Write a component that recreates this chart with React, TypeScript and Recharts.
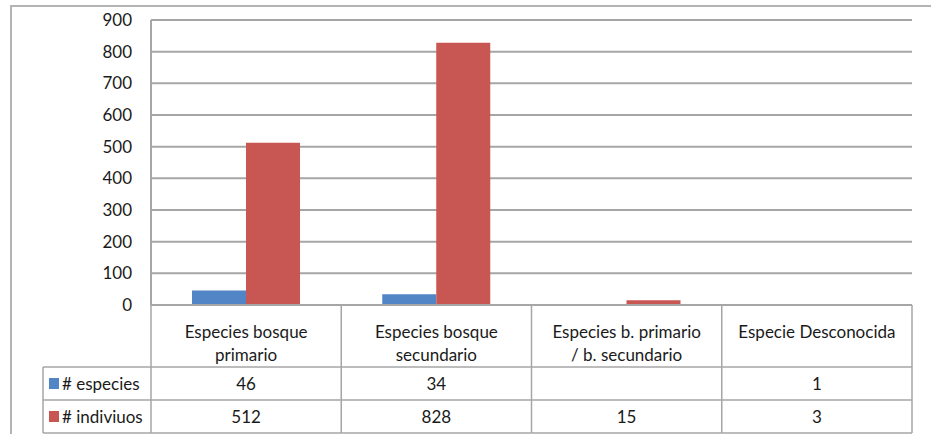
import React from "react";
import { BarChart, Bar, XAxis, YAxis, CartesianGrid } from "recharts";

const categories = [
  ["Especies bosque", "primario"],
  ["Especies bosque", "secundario"],
  ["Especies b. primario", "/ b. secundario"],
  ["Especie Desconocida"],
];
const especies: (number | null)[] = [46, 34, null, 1];
const individuos = [512, 828, 15, 3];
const yTicks = [0, 100, 200, 300, 400, 500, 600, 700, 800, 900];

const W = 931;
const H = 434;
const PLOT_LEFT = 151;
const PLOT_RIGHT = 912;
const PLOT_TOP = 20;
const PLOT_BOTTOM = 305;
const FONT = "Lato, 'Open Sans', sans-serif";
const LINE = "#a6a6a6";
const TEXT = "#1a1a1a";
const BLUE = "#5285C6";
const RED = "#C85652";

const data = categories.map((c, i) => ({
  name: c.join(" "),
  especies: especies[i],
  individuos: individuos[i],
}));

const band = (PLOT_RIGHT - PLOT_LEFT) / categories.length;
const headerH = 62;
const rowH = 33;
const rowLabelW = 108;

function TableTick(props: any) {
  const { x, y, payload } = props;
  const i = payload.index;
  const left = x - band / 2;
  const right = x + band / 2;
  const r1 = y + headerH;
  const r2 = r1 + rowH;
  const r3 = r2 + rowH;
  const lines = categories[i];
  const rows = [
    { label: "# especies", color: BLUE, value: especies[i] },
    { label: "# indiviuos", color: RED, value: individuos[i] },
  ];
  return (
    <g fontFamily={FONT} fontSize={17} fill={TEXT}>
      <line x1={right} y1={y} x2={right} y2={r3} stroke={LINE} strokeWidth={1.5} />
      {i === 0 && (
        <g>
          <line x1={left} y1={y} x2={left} y2={r3} stroke={LINE} strokeWidth={1.5} />
          <line x1={left - rowLabelW} y1={r1} x2={left - rowLabelW} y2={r3} stroke={LINE} strokeWidth={1.5} />
          <line x1={left - rowLabelW} y1={r1} x2={left} y2={r1} stroke={LINE} strokeWidth={1.5} />
          <line x1={left - rowLabelW} y1={r2} x2={left} y2={r2} stroke={LINE} strokeWidth={1.5} />
          <line x1={left - rowLabelW} y1={r3} x2={left} y2={r3} stroke={LINE} strokeWidth={1.5} />
          {rows.map((r, k) => (
            <g key={k}>
              <rect x={left - rowLabelW + 6} y={r1 + k * rowH + 11} width={10} height={11} fill={r.color} />
              <text x={left - rowLabelW + 19} y={r1 + k * rowH + rowH / 2} dominantBaseline="central" fill={TEXT}>
                {r.label}
              </text>
            </g>
          ))}
        </g>
      )}
      <line x1={left} y1={r1} x2={right} y2={r1} stroke={LINE} strokeWidth={1.5} />
      <line x1={left} y1={r2} x2={right} y2={r2} stroke={LINE} strokeWidth={1.5} />
      <line x1={left} y1={r3} x2={right} y2={r3} stroke={LINE} strokeWidth={1.5} />
      {lines.map((t, k) => (
        <text key={k} x={x} y={y + 26 + k * 23} textAnchor="middle" dominantBaseline="central" fill={TEXT}>
          {t}
        </text>
      ))}
      {rows.map((r, k) => (
        <text key={k} x={x} y={r1 + k * rowH + rowH / 2} textAnchor="middle" dominantBaseline="central" fill={TEXT}>
          {r.value == null ? "" : r.value}
        </text>
      ))}
    </g>
  );
}

export default function App() {
  return (
    <div style={{ position: "fixed", left: 0, top: 0, width: W, height: H, overflow: "hidden", background: "#fff" }}>
      <div
        style={{
          position: "absolute",
          left: 10,
          top: 5,
          width: 940,
          height: 460,
          border: "2px solid #b4b4b4",
          boxSizing: "border-box",
        }}
      />
      <div style={{ position: "absolute", left: 0, top: 0 }}>
        <BarChart
          width={W}
          height={H}
          data={data}
          margin={{ top: PLOT_TOP, right: W - PLOT_RIGHT, bottom: 0, left: 0 }}
          barGap={0}
          barSize={54}
        >
          <CartesianGrid vertical={false} stroke={LINE} strokeWidth={2} />
          <YAxis
            width={PLOT_LEFT}
            domain={[0, 900]}
            ticks={yTicks}
            interval={0}
            tickLine={false}
            tickSize={0}
            tickMargin={19}
            axisLine={{ stroke: LINE, strokeWidth: 2 }}
            tick={{ fontFamily: FONT, fontSize: 17, fill: TEXT }}
          />
          <XAxis
            dataKey="name"
            height={H - PLOT_BOTTOM}
            interval={0}
            tickLine={false}
            tickSize={0}
            tickMargin={0}
            axisLine={{ stroke: LINE, strokeWidth: 2 }}
            tick={<TableTick />}
          />
          <Bar dataKey="especies" fill={BLUE} isAnimationActive={false} />
          <Bar dataKey="individuos" fill={RED} isAnimationActive={false} />
        </BarChart>
      </div>
    </div>
  );
}
